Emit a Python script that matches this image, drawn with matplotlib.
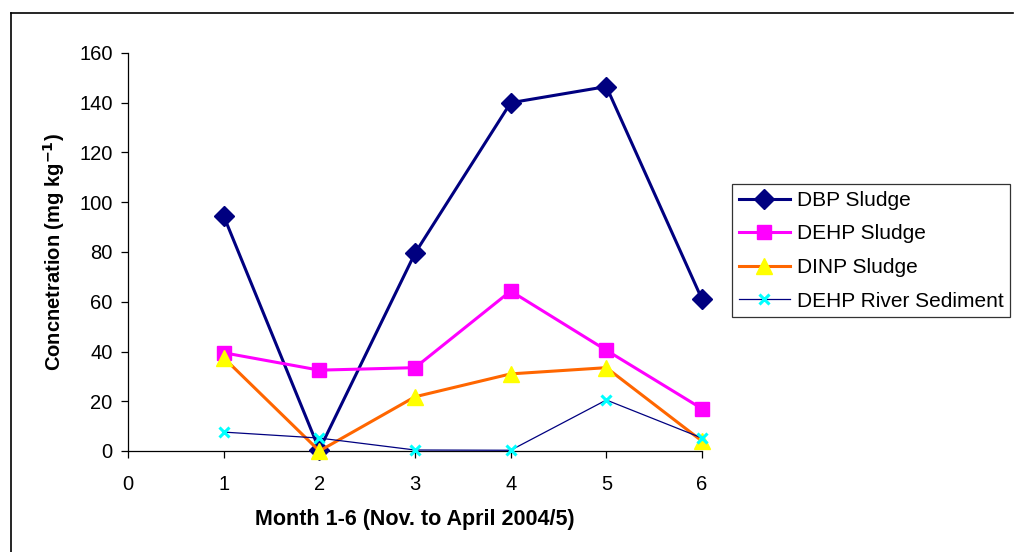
import matplotlib
matplotlib.use("Agg")
import matplotlib.pyplot as plt
from matplotlib.lines import Line2D

months = [1, 2, 3, 4, 5, 6]
dbp_sludge = [94.5, 0.5, 79.5, 140.0, 146.5, 61.0]
dehp_sludge = [39.5, 32.5, 33.5, 64.3, 40.5, 17.0]
dinp_sludge = [37.5, 0.0, 21.8, 31.0, 33.5, 4.0]
dehp_river = [7.6, 5.2, 0.4, 0.3, 20.5, 5.2]

x_ticks = [0, 1, 2, 3, 4, 5, 6]
y_ticks = [0, 20, 40, 60, 80, 100, 120, 140, 160]

plt.rcParams['font.family'] = ['Liberation Sans', 'DejaVu Sans']

fig = plt.figure(figsize=(10.14, 5.52), dpi=100)
W, H = 1014, 552
ax = fig.add_axes([128 / W, 1 - 451 / H, (702 - 128) / W, (451 - 53) / H])

ax.plot(months, dbp_sludge, color='#000080', lw=2.2, marker='D', ms=10,
        mfc='#000080', mec='#000080', label='DBP Sludge', clip_on=False, zorder=3)
ax.plot(months, dehp_sludge, color='#FF00FF', lw=2.2, marker='s', ms=10,
        mfc='#FF00FF', mec='#FF00FF', label='DEHP Sludge', clip_on=False, zorder=3)
ax.plot(months, dinp_sludge, color='#FF6600', lw=2.2, marker='^', ms=12,
        mfc='#FFFF00', mec='#FFFF00', label='DINP Sludge', clip_on=False, zorder=3)
ax.plot(months, dehp_river, color='#000080', lw=0.9, marker='x', ms=7, mew=2.2,
        mfc='#00FFFF', mec='#00FFFF', label='DEHP River Sediment', clip_on=False, zorder=4)

ax.set_xlim(0, 6)
ax.set_ylim(0, 160)
ax.set_xticks(x_ticks)
ax.set_yticks(y_ticks)
for s in ['top', 'right']:
    ax.spines[s].set_visible(False)
for s in ['left', 'bottom']:
    ax.spines[s].set_color('#000000')
    ax.spines[s].set_linewidth(0.9)
ax.tick_params(axis='both', direction='out', length=5, width=0.9, labelsize=14.5, colors='black')
ax.tick_params(axis='x', pad=12)
ax.tick_params(axis='y', pad=6)

ax.set_xlabel('Month 1-6 (Nov. to April 2004/5)', fontsize=15.5, fontweight='bold', labelpad=11)
ax.set_ylabel('Concnetration (mg kg$^{\\mathbf{-1}}$)', fontsize=14.5, fontweight='bold', labelpad=9)

leg = ax.legend(loc='upper left', bbox_to_anchor=(732 / W, 1 - 184 / H),
                bbox_transform=fig.transFigure, fontsize=15, frameon=True,
                fancybox=False, shadow=False, borderpad=0.33, labelspacing=0.7,
                handlelength=2.45, handletextpad=0.33, borderaxespad=0)
leg.get_frame().set_edgecolor('black')
leg.get_frame().set_linewidth(0.9)

# Outer chart border
fig.add_artist(Line2D([11 / W, 1013 / W], [1 - 13 / H, 1 - 13 / H], color='black', lw=1.2, transform=fig.transFigure))
fig.add_artist(Line2D([11 / W, 11 / W], [0, 1 - 13 / H], color='black', lw=1.2, transform=fig.transFigure))

fig.savefig('out.png', dpi=100)
